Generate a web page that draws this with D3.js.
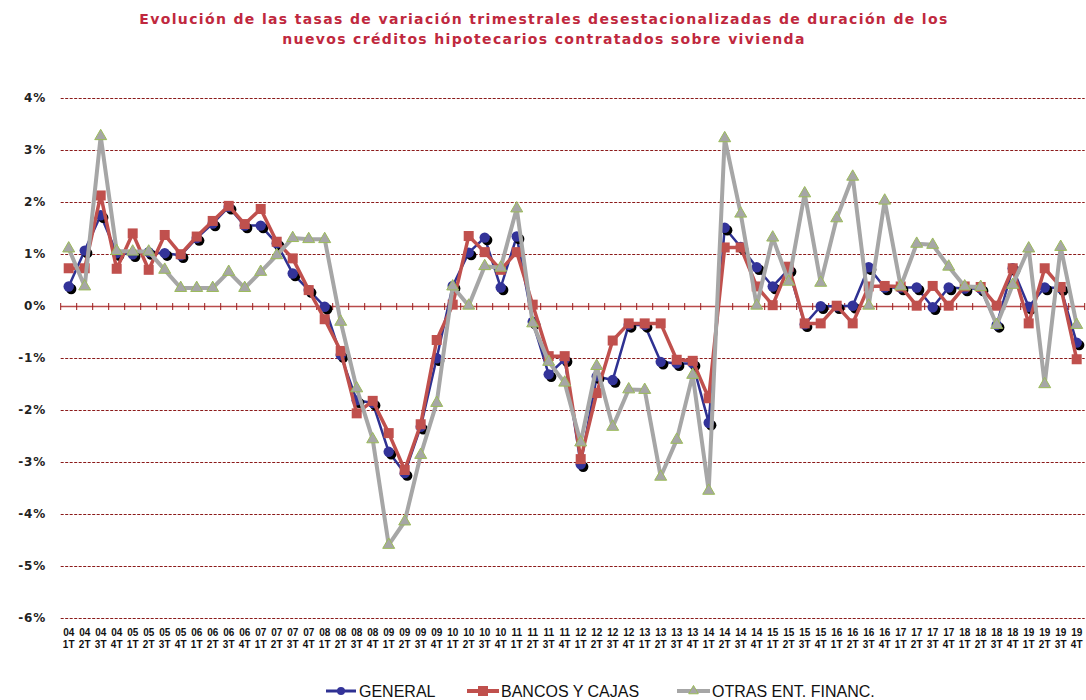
<!DOCTYPE html>
<html>
<head>
<meta charset="utf-8">
<script src="https://cdn.jsdelivr.net/npm/d3@7"></script>
<style>
  html, body { margin: 0; padding: 0; background: #fff; }
  svg { display: block; }
</style>
</head>
<body>
<svg id="chart" width="1086" height="700"></svg>
<script>
// Quarter labels: year on the first line, quarter on the second
const years = ["04","05","06","07","08","09","10","11","12","13","14","15","16","17","18","19"];
const quarterNames = ["1T","2T","3T","4T"];
const categories = years.flatMap(y => quarterNames.map(q => y + "|" + q));

// Quarterly seasonally adjusted change in the term of new mortgage loans (%)
const general = [
  0.37, 1.06, 1.74, 1.01, 0.99, 1.03, 1.01, 0.97, 1.30, 1.58,
  1.90, 1.54, 1.54, 1.20, 0.62, 0.30, -0.02, -0.95, -1.82, -1.87,
  -2.81, -3.22, -2.33, -1.01, 0.38, 1.02, 1.31, 0.35, 1.33, -0.31,
  -1.32, -1.03, -3.05, -1.36, -1.43, -0.37, -0.37, -1.08, -1.11, -1.11,
  -2.25, 1.50, 1.13, 0.74, 0.37, 0.70, -0.36, -0.01, -0.01, 0.00,
  0.74, 0.35, 0.35, 0.35, -0.03, 0.35, 0.33, 0.33, -0.37, 0.72,
  -0.02, 0.35, 0.34, -0.71
];
const bancos = [
  0.72, 0.72, 2.12, 0.71, 1.39, 0.69, 1.36, 0.99, 1.33, 1.63,
  1.92, 1.57, 1.86, 1.23, 0.91, 0.30, -0.26, -0.87, -2.07, -1.83,
  -2.45, -3.16, -2.28, -0.66, 0.02, 1.34, 1.03, 0.69, 1.03, 0.02,
  -0.97, -0.97, -2.95, -1.68, -0.67, -0.34, -0.34, -0.34, -1.04, -1.06,
  -1.78, 1.12, 1.12, 0.37, 0.01, 0.75, -0.34, -0.34, 0.00, -0.34,
  0.37, 0.38, 0.37, 0.00, 0.38, 0.00, 0.37, 0.36, 0.00, 0.72,
  -0.34, 0.72, 0.36, -1.03
];
const otras = [
  1.10, 0.37, 3.26, 1.05, 1.04, 1.04, 0.69, 0.34, 0.34, 0.34,
  0.65, 0.34, 0.65, 0.97, 1.30, 1.28, 1.28, -0.31, -1.59, -2.57,
  -4.60, -4.15, -2.87, -1.87, 0.37, 0.00, 0.76, 0.73, 1.87, -0.34,
  -1.08, -1.48, -2.63, -1.16, -2.33, -1.61, -1.62, -3.29, -2.58, -1.33,
  -3.56, 3.22, 1.77, 0.00, 1.31, 0.46, 2.16, 0.44, 1.68, 2.48,
  0.00, 2.02, 0.37, 1.19, 1.17, 0.75, 0.37, 0.36, -0.37, 0.40,
  1.10, -1.51, 1.13, -0.37
];
const yTicks = [4, 3, 2, 1, 0, -1, -2, -3, -4, -5, -6];
const seriesNames = ["GENERAL", "BANCOS Y CAJAS", "OTRAS ENT. FINANC."];
const titleLines = [
  "Evolución de las tasas de variación trimestrales desestacionalizadas de duración de los",
  "nuevos créditos hipotecarios contratados sobre vivienda"
];

const svg = d3.select("#chart");
const plotLeft = 60.7, plotRight = 1084.7, plotTop = 97.7, plotBottom = 617.7;

const x = d3.scaleBand().domain(categories).range([plotLeft, plotRight]).padding(0);
const y = d3.scaleLinear().domain([-6, 4]).range([plotBottom, plotTop]);
const cx = d => x(d) + x.bandwidth() / 2;

// Title
svg.append("g").selectAll("text").data(titleLines).join("text")
  .attr("x", 544).attr("y", (d, i) => 23.5 + i * 20)
  .attr("text-anchor", "middle")
  .style("font-family", "'DejaVu Sans', Verdana, sans-serif")
  .style("font-weight", "bold").style("font-size", "14px")
  .style("letter-spacing", "1.35px")
  .attr("fill", "#C0283E")
  .text(d => d);

// Gridlines (dashed), zero line drawn separately
const grid = svg.append("g");
grid.selectAll("line").data(yTicks.filter(v => v !== 0)).join("line")
  .attr("x1", plotLeft).attr("x2", plotRight)
  .attr("y1", d => Math.round(y(d)) + 0.5).attr("y2", d => Math.round(y(d)) + 0.5)
  .attr("stroke", "#8B1A1A").attr("stroke-width", 1)
  .attr("stroke-dasharray", "3,1.5");

// Y axis labels
svg.append("g").selectAll("text").data(yTicks).join("text")
  .attr("x", 46).attr("y", d => y(d))
  .attr("dy", "0.36em")
  .attr("text-anchor", "end")
  .style("font-family", "'DejaVu Sans', Verdana, sans-serif")
  .style("font-weight", "bold").style("font-size", "12px")
  .style("letter-spacing", "0.8px")
  .attr("fill", "#222")
  .text(d => d + "%");

// Zero axis with category tick marks
const zeroY = Math.round(y(0)) + 0.5;
svg.append("line")
  .attr("x1", plotLeft).attr("x2", plotRight).attr("y1", zeroY).attr("y2", zeroY)
  .attr("stroke", "#B84A4A").attr("stroke-width", 1.5);
svg.append("g").selectAll("line").data(d3.range(categories.length + 1)).join("line")
  .attr("x1", i => plotLeft + i * x.bandwidth()).attr("x2", i => plotLeft + i * x.bandwidth())
  .attr("y1", zeroY - 3.5).attr("y2", zeroY + 3.5)
  .attr("stroke", "#9B1B1B").attr("stroke-width", 1);

// Category labels below the plot
const labG = svg.append("g")
  .style("font-family", "'Liberation Sans', Arial, sans-serif")
  .style("font-weight", "bold").style("font-size", "10px")
  .attr("fill", "#111");
labG.selectAll("text").data(categories).join("text")
  .attr("x", d => cx(d)).attr("y", 636)
  .attr("text-anchor", "middle")
  .each(function(d) {
    const [yy, q] = d.split("|");
    const t = d3.select(this);
    t.append("tspan").attr("x", cx(d)).attr("dy", 0).text(yy);
    t.append("tspan").attr("x", cx(d)).attr("dy", 12).text(q);
  });

const line = d3.line().x((v, i) => cx(categories[i])).y(v => y(v));

// Series 1: GENERAL
const gGen = svg.append("g");
gGen.append("path").datum(general).attr("d", line)
  .attr("fill", "none").attr("stroke", "#2E3192").attr("stroke-width", 2.5)
  .attr("stroke-linejoin", "round");
gGen.selectAll("circle.sh").data(general).join("circle").attr("class", "sh")
  .attr("cx", (v, i) => cx(categories[i]) + 2.5).attr("cy", v => y(v) + 2.5)
  .attr("r", 5.2).attr("fill", "#000");
gGen.selectAll("circle.pt").data(general).join("circle").attr("class", "pt")
  .attr("cx", (v, i) => cx(categories[i])).attr("cy", v => y(v))
  .attr("r", 5.2).attr("fill", "#333399");

// Series 2: BANCOS Y CAJAS
const gBan = svg.append("g");
gBan.append("path").datum(bancos).attr("d", line)
  .attr("fill", "none").attr("stroke", "#C0504D").attr("stroke-width", 3.5)
  .attr("stroke-linejoin", "round");
gBan.selectAll("rect").data(bancos).join("rect")
  .attr("x", (v, i) => cx(categories[i]) - 5).attr("y", v => y(v) - 5)
  .attr("width", 10).attr("height", 10).attr("fill", "#C0504D");

// Series 3: OTRAS ENT. FINANC.
const tri = d3.symbol().type(d3.symbolTriangle).size(62);
const gOtr = svg.append("g");
gOtr.append("path").datum(otras).attr("d", line)
  .attr("fill", "none").attr("stroke", "#A6A6A6").attr("stroke-width", 4)
  .attr("stroke-linejoin", "round");
gOtr.selectAll("path.mk").data(otras).join("path").attr("class", "mk")
  .attr("transform", (v, i) => `translate(${cx(categories[i])},${y(v)})`)
  .attr("d", tri).attr("fill", "#A6A6A6")
  .attr("stroke", "#9BBB59").attr("stroke-width", 1);

// Legend
const legY = 691;
const leg = svg.append("g");
const legItems = [
  { name: seriesNames[0], x1: 326, x2: 356, color: "#2E3192", sw: 3, mark: "circle", tx: 359 },
  { name: seriesNames[1], x1: 467, x2: 499, color: "#C0504D", sw: 4, mark: "square", tx: 501 },
  { name: seriesNames[2], x1: 677, x2: 710, color: "#A6A6A6", sw: 4, mark: "triangle", tx: 712 }
];
legItems.forEach(it => {
  leg.append("line").attr("x1", it.x1).attr("x2", it.x2).attr("y1", legY).attr("y2", legY)
    .attr("stroke", it.color).attr("stroke-width", it.sw);
  const mx = (it.x1 + it.x2) / 2;
  if (it.mark === "circle") {
    leg.append("circle").attr("cx", mx).attr("cy", legY).attr("r", 4).attr("fill", "#333399");
  } else if (it.mark === "square") {
    leg.append("rect").attr("x", mx - 5).attr("y", legY - 5).attr("width", 10).attr("height", 10)
      .attr("fill", "#C0504D");
  } else {
    leg.append("path").attr("transform", `translate(${mx},${legY})`)
      .attr("d", d3.symbol().type(d3.symbolTriangle).size(40))
      .attr("fill", "#A6A6A6").attr("stroke", "#9BBB59").attr("stroke-width", 1);
  }
  leg.append("text").attr("x", it.tx).attr("y", legY + 6)
    .style("font-family", "'Liberation Sans', Arial, sans-serif")
    .style("font-size", "16px").attr("fill", "#111")
    .text(it.name);
});
</script>
</body>
</html>
